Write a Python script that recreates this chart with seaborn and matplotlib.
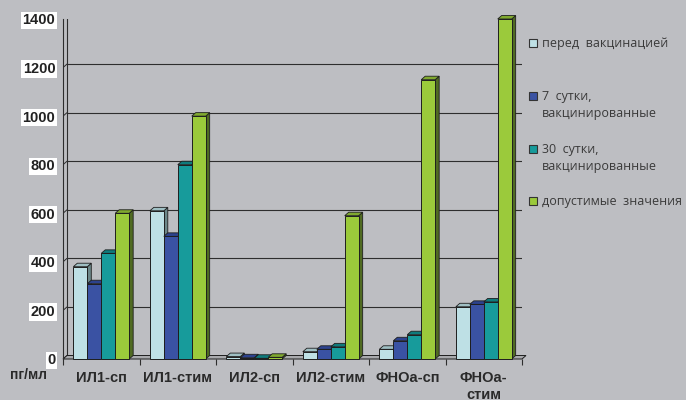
import matplotlib
matplotlib.use("Agg")
import matplotlib.pyplot as plt
import matplotlib.colors as mcolors
import numpy as np
import pandas as pd
import seaborn as sns
from matplotlib.patches import Polygon, Rectangle
from matplotlib.transforms import IdentityTransform

# --- data -------------------------------------------------------------
categories = ["ИЛ1-сп", "ИЛ1-стим", "ИЛ2-сп", "ИЛ2-стим", "ФНОа-сп", "ФНОа-\nстим"]
series = [
    "перед  вакцинацией",
    "7  сутки,\nвакцинированные",
    "30  сутки,\nвакцинированные",
    "допустимые  значения",
]
before_vacc = [380, 610, 10, 30, 40, 215]
day7_vacc = [310, 505, 5, 40, 75, 225]
day30_vacc = [435, 800, 3, 50, 100, 235]
reference_norm = [600, 1000, 7, 590, 1150, 1400]
y_ticks = [0, 200, 400, 600, 800, 1000, 1200, 1400]
unit_label = "пг/мл"

# --- style ------------------------------------------------------------
BG = "#BDBEC2"
EDGE = "#1E1E1E"
GRID = "#2E2E2E"
front_colors = ["#BEE0E5", "#3A52A3", "#179B9B", "#9BCA3B"]
top_colors = ["#9FBFC3", "#2C428E", "#0F7B7C", "#80A92F"]
side_colors = ["#6D8789", "#243572", "#0B5C5D", "#506B22"]
DX, DY = 4.0, 3.5  # depth offset of the pseudo-3D faces, in pixels

W, H, DPI = 686, 400, 100

df = pd.DataFrame({
    "category": np.tile(categories, len(series)),
    "series": np.repeat(series, len(categories)),
    "value": before_vacc + day7_vacc + day30_vacc + reference_norm,
})

sns.set_theme(style="white")
plt.rcParams["font.family"] = ["Liberation Sans", "DejaVu Sans"]

fig = plt.figure(figsize=(W / DPI, H / DPI), dpi=DPI, facecolor=BG)
ax = fig.add_axes([63 / W, 41 / H, 459 / W, 340 / H])
ax.set_facecolor("none")

sns.barplot(
    data=df, x="category", y="value", hue="series",
    order=categories, hue_order=series, palette=front_colors,
    width=0.73, saturation=1, edgecolor=EDGE, linewidth=0.7,
    errorbar=None, legend=False, ax=ax,
)
ax.set_xlim(-0.5, 5.5)
ax.set_ylim(0, 1400)
ax.set_xlabel("")
ax.set_ylabel("")

to_px = ax.transData.transform
ident = IdentityTransform()

# back wall gridlines and left wall edges
x_left, x_right = -0.5, 5.5
for yv in y_ticks:
    (fx0, fy), (fx1, _) = to_px([(x_left, yv), (x_right, yv)])
    if yv > 0:
        ax.add_line(plt.Line2D([fx0 + DX, fx1 + DX], [fy + DY, fy + DY],
                               transform=ident, color=GRID, lw=0.8, zorder=0.5))
    ax.add_line(plt.Line2D([fx0, fx0 + DX], [fy, fy + DY],
                           transform=ident, color=GRID, lw=0.7, zorder=0.5))
(bx, by0), (_, by1) = to_px([(x_left, 0), (x_left, 1400)])
ax.add_line(plt.Line2D([bx + DX, bx + DX], [by0 + DY, by1 + DY],
                       transform=ident, color=GRID, lw=0.8, zorder=0.5))

# floor
(fx0, fy), (fx1, _) = to_px([(x_left, 0), (x_right, 0)])
floor = Polygon([(fx0, fy), (fx1, fy), (fx1 + DX, fy + DY), (fx0 + DX, fy + DY)],
                closed=True, transform=ident, facecolor="#A9AAAD",
                edgecolor=EDGE, lw=0.7, zorder=1, clip_on=False)
ax.add_patch(floor)

# side and top faces for every bar, drawn left to right
front_rgba = [mcolors.to_rgba(c) for c in front_colors]
bars = [p for p in ax.patches if isinstance(p, matplotlib.patches.Rectangle)]
bars = sorted(bars, key=lambda p: p.get_x())
for i, bar in enumerate(bars):
    fc = bar.get_facecolor()
    k = int(np.argmin([np.sum(np.abs(np.array(fc) - np.array(c))) for c in front_rgba]))
    x0, w, h = bar.get_x(), bar.get_width(), bar.get_height()
    (px0, py0), (px1, py1) = to_px([(x0, 0), (x0 + w, h)])
    z = 2 + i * 0.01
    side = Polygon([(px1, py0), (px1 + DX, py0 + DY), (px1 + DX, py1 + DY), (px1, py1)],
                   closed=True, transform=ident, facecolor=side_colors[k],
                   edgecolor=EDGE, lw=0.6, zorder=z, clip_on=False)
    top = Polygon([(px0, py1), (px0 + DX, py1 + DY), (px1 + DX, py1 + DY), (px1, py1)],
                  closed=True, transform=ident, facecolor=top_colors[k],
                  edgecolor=EDGE, lw=0.6, zorder=z + 0.001, clip_on=False)
    ax.add_patch(side)
    ax.add_patch(top)
    bar.set_zorder(z + 0.002)
    bar.set_clip_on(False)

# axes, ticks and labels
sns.despine(ax=ax, left=False, bottom=True, top=True, right=True)
ax.spines["left"].set_color(GRID)
ax.spines["left"].set_linewidth(0.8)

ax.set_yticks(y_ticks)
ax.set_yticklabels([str(v) for v in y_ticks])
ax.tick_params(axis="y", direction="out", length=3, width=0.8, color=GRID,
               pad=2.5, labelsize=10.5, labelcolor="#222222")
for lbl in ax.get_yticklabels():
    lbl.set_fontweight("bold")
    lbl.set_bbox(dict(facecolor="white", edgecolor="none", pad=1.2))

ax.set_xticks(range(len(categories)))
ax.set_xticklabels(categories)
ax.set_xticks(np.arange(-0.5, len(categories)), minor=True)
ax.tick_params(axis="x", which="major", length=0, pad=9, labelsize=10.5,
               labelcolor="#2A2A2A")
ax.tick_params(axis="x", which="minor", direction="out", length=4, width=0.8,
               color=GRID, bottom=True)
for lbl in ax.get_xticklabels():
    lbl.set_fontweight("bold")
    lbl.set_verticalalignment("top")

fig.text(10 / W, 1 - 375 / H, unit_label, fontsize=10, fontweight="bold",
         color="#2A2A2A", va="center", ha="left")

# legend: colour square plus one text line per row of the label
legend_font = ["Open Sans", "DejaVu Sans"]
marker_centers = [43, 96, 149, 201]
line_step = 16.3
for color, label, yc in zip(front_colors, series, marker_centers):
    fig.patches.append(Rectangle((529 / W, 1 - (yc + 4) / H), 8 / W, 8 / H,
                                 transform=fig.transFigure, facecolor=color,
                                 edgecolor="#333333", lw=0.8))
    for j, line in enumerate(label.split("\n")):
        base = yc + 4.3 + j * line_step
        fig.text(542 / W, 1 - base / H, line, fontsize=9, color="#3A3A3A",
                 family=legend_font, va="baseline", ha="left")

fig.savefig("out.png", dpi=DPI, facecolor=BG)
